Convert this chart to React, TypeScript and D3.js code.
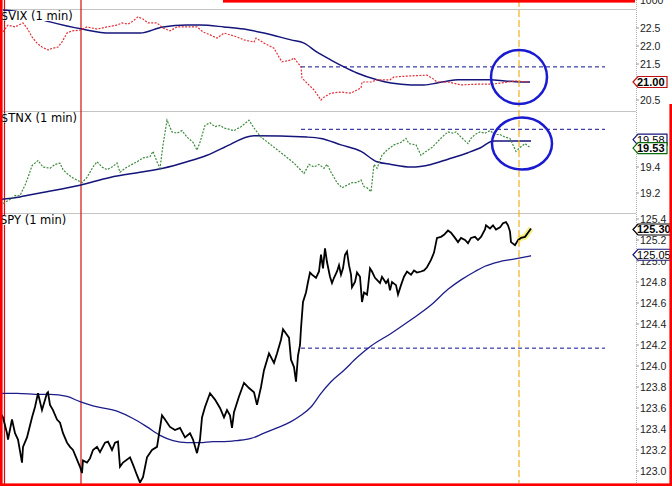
import React from "react";
import * as d3 from "d3";

type P = [number, number];

// time index (1 unit = one sample step), value
const vixPrice: P[] = [
  [1.5, 22.39], [4, 22.58], [7.5, 22.53], [11.5, 22.64], [13.5, 22.5], [16, 22.25], [18.5, 22.08], [21, 21.97],
  [24, 21.89], [26.5, 21.94], [29, 21.97], [31, 22.11], [33.5, 22.36], [36, 22.42], [40, 22.44], [43.5, 22.53],
  [48.5, 22.47], [53.5, 22.53], [58.5, 22.58], [61, 22.64], [64, 22.61], [66.5, 22.69], [69, 22.81], [71.5, 22.75],
  [74, 22.64], [78.5, 22.64], [81.5, 22.5], [85, 22.42], [88.5, 22.53], [93.5, 22.53], [98.5, 22.53], [101.5, 22.39],
  [105, 22.31], [108.5, 22.22], [112, 22.36], [118.5, 22.25], [122, 22.17], [127, 22.11], [128, 22.22], [132, 22.08],
  [137, 21.94], [139.5, 21.69], [141, 21.56], [145.5, 21.61], [147, 21.67], [148.5, 21.56], [150.5, 21.42], [151, 21.11],
  [153.5, 20.97], [157, 20.78], [160.5, 20.5], [162, 20.58], [165.5, 20.69], [170.5, 20.72], [175.5, 20.69], [178.5, 20.78],
  [180.5, 20.83], [181, 21.0], [185.5, 21.0], [188.5, 21.06], [195, 21.06], [197, 21.14], [205.5, 21.17], [213.5, 21.19],
  [216, 21.11], [218.5, 21.0], [224, 21.0], [230.5, 20.92], [239, 20.94], [245.5, 20.94], [250.5, 20.97], [257.5, 21.03],
  [264, 21.0],
];
const vixAvg: P[] = [
  [1.5, 23.0], [7, 22.97], [25, 22.67], [41, 22.47], [55, 22.36], [70, 22.36], [81.5, 22.53], [93.5, 22.58], [100, 22.58],
  [112, 22.53], [122, 22.47], [132, 22.36], [145.5, 22.17], [152, 22.08], [158.5, 21.83], [165.5, 21.61], [172, 21.42],
  [178.5, 21.25], [188.5, 21.06], [195.5, 20.97], [205.5, 20.92], [212, 20.92], [218.5, 20.97], [224, 21.03], [229, 21.06],
  [245, 21.06], [252.5, 21.03], [260, 21.0], [265, 21.0],
];
const tnxPrice: P[] = [
  [1.5, 19.12], [5, 19.15], [7.5, 19.18], [10, 19.18], [12.5, 19.26], [14, 19.32], [16, 19.41], [17.5, 19.43], [19, 19.45],
  [21.5, 19.4], [25, 19.39], [27.5, 19.42], [30, 19.43], [31.5, 19.38], [33.5, 19.35], [36, 19.32], [38.5, 19.3], [41, 19.28],
  [43.5, 19.32], [46.5, 19.4], [48.5, 19.44], [51, 19.4], [53.5, 19.38], [56, 19.4], [58.5, 19.43], [60, 19.36], [62.5, 19.39],
  [66, 19.42], [68.5, 19.44], [71.5, 19.47], [75, 19.48], [76.5, 19.52], [78.5, 19.44], [80, 19.39], [81.5, 19.57], [83.5, 19.76],
  [86, 19.67], [88.5, 19.66], [91, 19.68], [93.5, 19.63], [96.5, 19.59], [98.5, 19.53], [100, 19.59], [102.5, 19.72], [105, 19.74],
  [107.5, 19.71], [110, 19.72], [112, 19.7], [117, 19.68], [120.5, 19.71], [124.5, 19.76], [127, 19.7], [130.5, 19.63],
  [135.5, 19.57], [140.5, 19.51], [147, 19.43], [152, 19.35], [154.5, 19.42], [157, 19.4], [159.5, 19.42], [162, 19.39],
  [163.5, 19.42], [165.5, 19.36], [168.5, 19.28], [171, 19.24], [173.5, 19.26], [176, 19.28], [178.5, 19.28], [180.5, 19.3],
  [182, 19.25], [183.5, 19.24], [185.5, 19.21], [187, 19.42], [188.5, 19.39], [191, 19.49], [193.5, 19.53], [197, 19.57],
  [200.5, 19.59], [203, 19.62], [204.5, 19.58], [208, 19.57], [210.5, 19.49], [213, 19.52], [216, 19.55], [218.5, 19.59],
  [221, 19.63], [224, 19.67], [226.5, 19.66], [228, 19.67], [230.5, 19.63], [234, 19.58], [235.5, 19.62], [237.5, 19.65],
  [240, 19.67], [242.5, 19.66], [245, 19.68], [247.5, 19.65], [250, 19.65], [252.5, 19.63], [255, 19.62], [256.5, 19.57],
  [258, 19.52], [260, 19.55], [262.5, 19.58], [265, 19.55],
];
const tnxAvg: P[] = [
  [0, 19.15], [10, 19.17], [20, 19.2], [40, 19.26], [55, 19.32], [70, 19.36], [81.5, 19.39], [93.5, 19.44], [103.5, 19.49],
  [112, 19.55], [127, 19.64], [153.5, 19.63], [160.5, 19.62], [170.5, 19.57], [180.5, 19.52], [188.5, 19.44], [195.5, 19.42],
  [205.5, 19.4], [215.5, 19.42], [224, 19.46], [234, 19.51], [240.5, 19.55], [246.5, 19.6], [265.5, 19.6],
];
const spyPrice: P[] = [
  [0, 123.56], [1.5, 123.51], [3.5, 123.36], [4, 123.3], [6, 123.49], [7.5, 123.36], [9, 123.3], [11, 123.08], [11.5, 123.23],
  [13.5, 123.32], [16, 123.51], [17.5, 123.61], [19, 123.74], [21, 123.58], [23.5, 123.74], [24, 123.75], [25, 123.63],
  [26.5, 123.58], [28.5, 123.49], [30, 123.46], [31.5, 123.36], [33.5, 123.27], [35, 123.23], [36.5, 123.2], [40, 123.04],
  [41, 122.98], [41.5, 123.1], [43.5, 123.08], [45, 123.12], [46.5, 123.2], [48.5, 123.23], [50, 123.18], [52.5, 123.27],
  [54, 123.28], [56, 123.2], [57.5, 123.27], [59, 123.28], [60, 123.04], [61.5, 123.08], [65, 123.13], [66.5, 123.06],
  [68.5, 122.96], [70, 122.89], [71.5, 122.94], [73.5, 123.13], [76, 123.2], [78.5, 123.23], [81, 123.53], [82.5, 123.49],
  [85, 123.42], [87.5, 123.39], [90, 123.41], [92.5, 123.32], [95, 123.36], [96.5, 123.3], [98.5, 123.17], [100, 123.3],
  [101, 123.51], [102.5, 123.61], [105, 123.74], [107.5, 123.68], [110, 123.6], [112, 123.51], [113.5, 123.58], [115, 123.53],
  [116, 123.41], [117, 123.56], [119.5, 123.71], [122, 123.84], [124.5, 123.79], [127, 123.75], [128.5, 123.63], [130.5, 123.8],
  [132, 123.96], [134.5, 124.12], [137, 124.03], [138.5, 124.12], [140.5, 124.25], [141.5, 124.35], [143, 124.31],
  [144.5, 124.27], [145.5, 124.06], [147, 123.99], [148, 123.85], [149, 124.1], [150, 124.2], [150.5, 124.36], [151.5, 124.61],
  [153, 124.7], [154, 124.8], [155, 124.89], [156, 124.87], [158, 124.84], [159.5, 124.9], [160.5, 125.06], [161.5, 124.93],
  [162.5, 125.12], [163.5, 124.99], [165, 124.85], [166, 124.79], [167, 124.84], [168.5, 124.9], [169.5, 124.96],
  [170.5, 124.87], [171.5, 124.93], [172.5, 125.06], [173.5, 125.09], [174.5, 124.96], [175.5, 124.87], [176, 124.75],
  [177.5, 124.8], [178.5, 124.89], [180, 124.85], [181, 124.61], [182, 124.7], [183.5, 124.68], [184, 124.75], [185, 124.93],
  [186, 124.9], [187.5, 124.84], [188.5, 124.82], [190, 124.79], [191, 124.85], [193, 124.79], [194, 124.82], [195, 124.72],
  [196, 124.8], [198, 124.77], [199, 124.68], [200.5, 124.77], [202, 124.85], [203.5, 124.9], [205.5, 124.87], [207, 124.91],
  [208.5, 124.89], [210.5, 124.9], [212, 124.91], [213.5, 124.94], [215.5, 125.01], [217, 125.08], [218.5, 125.22],
  [220.5, 125.23], [222, 125.25], [224, 125.29], [225.5, 125.27], [227.5, 125.22], [229, 125.18], [230.5, 125.22],
  [232.5, 125.2], [234, 125.17], [235.5, 125.22], [237.5, 125.23], [239, 125.2], [240.5, 125.23], [242.5, 125.3],
  [243, 125.34], [245, 125.31], [246.5, 125.34], [248, 125.3], [250, 125.32], [251.5, 125.36], [253, 125.37], [254, 125.34],
  [255, 125.28], [255.5, 125.18], [257.5, 125.15], [259, 125.2], [260.5, 125.22], [262.5, 125.23], [264, 125.27],
  [265.5, 125.31],
];
const spyAvg: P[] = [
  [0, 123.74], [8.5, 123.74], [20, 123.73], [25, 123.73], [33.5, 123.71], [40, 123.66], [46.5, 123.62], [58.5, 123.57],
  [66.5, 123.5], [73.5, 123.42], [80, 123.34], [86.5, 123.29], [93.5, 123.27], [100, 123.27], [106.5, 123.28], [112, 123.28],
  [118.5, 123.29], [125.5, 123.31], [132, 123.36], [138.5, 123.41], [145.5, 123.47], [150.5, 123.53], [155.5, 123.61],
  [160.5, 123.74], [165.5, 123.85], [172, 123.96], [178.5, 124.08], [185.5, 124.19], [195.5, 124.31], [205.5, 124.44],
  [215.5, 124.58], [224, 124.73], [230.5, 124.82], [237.5, 124.9], [242.5, 124.95], [249, 124.99], [257.5, 125.02],
  [265.5, 125.05],
];

const vixTicks = [20.5, 21.5, 22.0, 22.5];
const tnxTicks = [19.2, 19.4];
const spyTicks = [123.0, 123.2, 123.4, 123.6, 123.8, 124.0, 124.2, 124.4, 124.6, 124.8, 125.0, 125.2, 125.4];
const titles = ["$VIX (1 min)", "$TNX (1 min)", "SPY (1 min)"];
const vixLevel = 21.42;
const tnxLevel = 19.69;
const spyLevel = 124.17;
const levelStart = 150.5;
const levelEnd = 302.5;
const sessionMarks = [2.25, 40.5];
const cursorT = 259.5;
const vixCircle = [259.5, 21.14];
const tnxCircle = [261, 19.58];

const W = 672;
const H = 486;
const PR = 636;

export default function App() {
  const x = d3.scaleLinear().domain([0, 318]).range([0, PR]);
  const yV = d3.scaleLinear().domain([20.5, 22.5]).range([100, 28]);
  const yT = d3.scaleLinear().domain([19.2, 19.4]).range([193, 167]);
  const yS = d3.scaleLinear().domain([123.0, 125.4]).range([471, 219]);
  const panels = [
    { id: "v", top: 9, bottom: 111, y: yV },
    { id: "t", top: 111, bottom: 213, y: yT },
    { id: "s", top: 213, bottom: 483, y: yS },
  ];
  const mk = (y: d3.ScaleLinear<number, number>, curve = d3.curveLinear) =>
    d3.line<P>().x((d) => x(d[0])).y((d) => y(d[1])).curve(curve);
  const axisFont = "'Liberation Sans', Arial, sans-serif";
  const tickLabels = (y: d3.ScaleLinear<number, number>, ticks: number[]) =>
    ticks.map((t, i) => (
      <g key={i}>
        <line x1={PR} x2={PR + 3} y1={y(t)} y2={y(t)} stroke="#999" />
        <text x={PR + 4} y={y(t)} dy="0.35em" fontSize={10.5} fontFamily={axisFont} fill="#222">
          {t.toFixed(1)}
        </text>
      </g>
    ));
  const tag = (yc: number, txt: string, color: string, bold: boolean, right: number, key: string) => (
    <g key={key}>
      <path
        d={`M${PR - 3},${yc} L${PR + 2},${yc - 5.5} L${right},${yc - 5.5} L${right},${yc + 5.5} L${PR + 2},${yc + 5.5} Z`}
        fill="#fff"
        stroke={color}
        strokeWidth={1.2}
      />
      <text x={PR + 1} y={yc} dy="0.36em" fontSize={11} fontWeight={bold ? 700 : 400} fontFamily={axisFont} fill="#000">
        {txt}
      </text>
    </g>
  );
  const navy = "#14147a";
  const circleBlue = "#1a1ad0";
  const spyTail = spyPrice.filter((d) => d[0] >= cursorT - 1);

  return (
    <svg width={W} height={H} style={{ position: "fixed", left: 0, top: 0, background: "#fff" }}>
      <defs>
        {panels.map((p) => (
          <clipPath id={`clip-${p.id}`} key={p.id}>
            <rect x={0} y={p.top} width={PR} height={p.bottom - p.top} />
          </clipPath>
        ))}
      </defs>
      <rect x={0} y={0} width={W} height={H} fill="#fff" />

      {[9, 111, 213].map((yy) => (
        <line key={yy} x1={0} x2={PR} y1={yy + 0.5} y2={yy + 0.5} stroke="#c4c4c4" />
      ))}
      <line x1={PR + 0.5} x2={PR + 0.5} y1={0} y2={483} stroke="#b0b0b0" strokeDasharray="1,1" />

      {sessionMarks.map((t, i) => (
        <line key={i} x1={x(t)} x2={x(t)} y1={0} y2={H} stroke="#d01010" strokeWidth={1.2} />
      ))}

      <g clipPath="url(#clip-v)">
        <path d={mk(yV, d3.curveMonotoneX)(vixAvg) || ""} fill="none" stroke={navy} strokeWidth={1.5} />
        <path d={mk(yV)(vixPrice) || ""} fill="none" stroke="#e0303a" strokeWidth={1.2} strokeDasharray="2,1.4" />
        <line x1={x(levelStart)} x2={x(levelEnd)} y1={yV(vixLevel)} y2={yV(vixLevel)} stroke="#101090" strokeDasharray="4,3" />
      </g>
      <g clipPath="url(#clip-t)">
        <path d={mk(yT, d3.curveMonotoneX)(tnxAvg) || ""} fill="none" stroke={navy} strokeWidth={1.5} />
        <path d={mk(yT)(tnxPrice) || ""} fill="none" stroke="#3f8a3f" strokeWidth={1.2} strokeDasharray="2,1.4" />
        <line x1={x(levelStart)} x2={x(levelEnd)} y1={yT(tnxLevel)} y2={yT(tnxLevel)} stroke="#101090" strokeDasharray="4,3" />
      </g>
      <g clipPath="url(#clip-s)">
        <path d={mk(yS, d3.curveMonotoneX)(spyAvg) || ""} fill="none" stroke="#1c1c8a" strokeWidth={1.3} />
        <path d={mk(yS)(spyTail) || ""} fill="none" stroke="#f6f07a" strokeWidth={6} strokeLinejoin="round" opacity={0.9} />
        <path d={mk(yS)(spyPrice) || ""} fill="none" stroke="#000" strokeWidth={1.8} strokeLinejoin="miter" />
        <line x1={x(levelStart)} x2={x(levelEnd)} y1={yS(spyLevel)} y2={yS(spyLevel)} stroke="#101090" strokeDasharray="4,3" />
      </g>

      <line x1={x(cursorT)} x2={x(cursorT)} y1={0} y2={483} stroke="#f0b020" strokeWidth={1.2} strokeDasharray="7,3" />

      <ellipse cx={x(vixCircle[0])} cy={yV(vixCircle[1])} rx={28} ry={27} fill="none" stroke={circleBlue} strokeWidth={2.5} />
      <ellipse cx={x(tnxCircle[0])} cy={yT(tnxCircle[1])} rx={30} ry={26} fill="none" stroke={circleBlue} strokeWidth={2.5} />

      {panels.map((p, i) => (
        <g key={p.id}>
          <rect x={0} y={p.top + 2} width={i === 2 ? 70 : 73} height={10} fill="#fff" />
          <text x={i === 2 ? 0 : 1} y={p.top + 10.5} fontSize={11.5} fontFamily="'DejaVu Sans', Verdana, sans-serif" fill="#000">
            {titles[i]}
          </text>
        </g>
      ))}

      {tickLabels(yV, vixTicks)}
      {tickLabels(yT, tnxTicks)}
      {tickLabels(yS, spyTicks)}
      <text x={PR + 4} y={0} dy="0.35em" fontSize={10.5} fontFamily={axisFont} fill="#222">1000</text>

      {tag(yV(21.0), "21.00", "#c01010", true, 667, "a")}
      {tag(yT(19.58) - 4, "19.58", "#14147a", false, 667, "b")}
      {tag(yT(19.53) - 2, "19.53", "#0a6a0a", true, 667, "c")}
      {tag(yS(125.05) - 1, "125.05", "#14147a", false, 675, "d")}
      {tag(yS(125.3), "125.30", "#000", true, 675, "e")}

      <rect x={0} y={0} width={2.6} height={H} fill="#ff0000" />
      <rect x={223} y={0} width={412} height={2.6} fill="#ff0000" />
      <rect x={669.4} y={104} width={2.6} height={H - 104} fill="#ff0000" />
      <rect x={0} y={483.4} width={W} height={2.6} fill="#ff0000" />
    </svg>
  );
}
